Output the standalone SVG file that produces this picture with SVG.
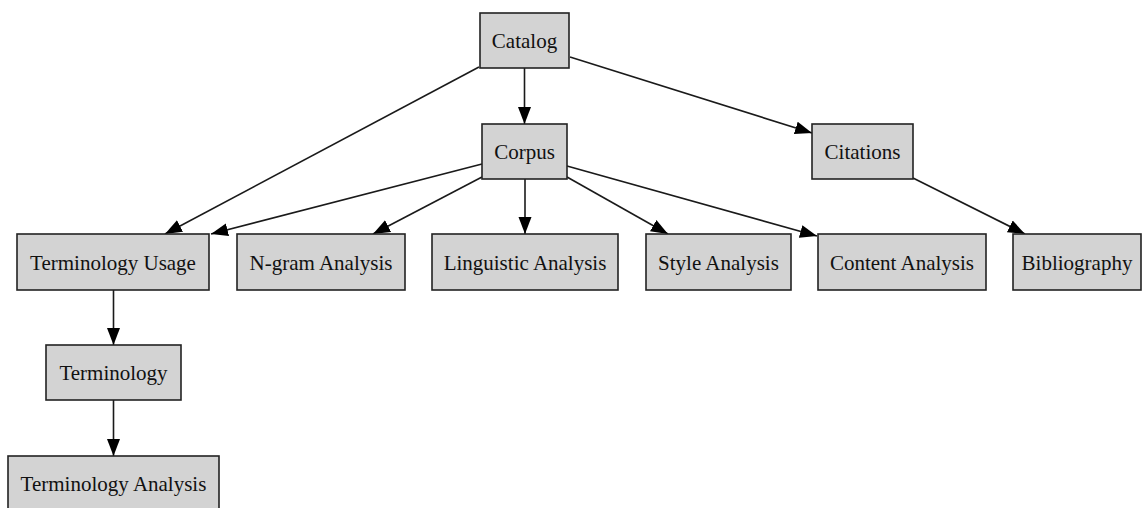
<svg xmlns="http://www.w3.org/2000/svg" width="1143" height="508" viewBox="0 0 1143 508">
  <style>
    .node rect { fill: #d3d3d3; stroke: #222; stroke-width: 1.6; }
    .node text { font-family: "Liberation Serif", "Times New Roman", serif; font-size: 21px; fill: #111; text-anchor: middle; }
    .edges path { fill: none; stroke: #1a1a1a; stroke-width: 1.6; marker-end: url(#arrow); }
  </style>
  <defs>
    <marker id="arrow" markerUnits="userSpaceOnUse" markerWidth="17" markerHeight="14" refX="17" refY="7" orient="auto">
      <path d="M0,0.5 L17,7 L0,13.5 z" fill="#000"/>
    </marker>
  </defs>
  <rect width="1143" height="508" fill="#fff"/>

  <g class="edges">
    <path d="M524.5,68 L524.5,124"/>
    <path d="M479,67 L165,234"/>
    <path d="M570,57 L812,133"/>
    <path d="M482,164 L211,234"/>
    <path d="M482,177 L373,234"/>
    <path d="M525,179 L525,234"/>
    <path d="M567,177 L668,234"/>
    <path d="M567,166 L817,236"/>
    <path d="M913,178 L1025,234"/>
    <path d="M113.5,290 L113.5,345"/>
    <path d="M113.5,400 L113.5,456"/>
  </g>

  <g id="catalog" class="node"><rect x="480" y="13" width="89" height="55"/><text x="524.5" y="48">Catalog</text></g>
  <g id="corpus" class="node"><rect x="482" y="124" width="85" height="55"/><text x="524.5" y="159">Corpus</text></g>
  <g id="citations" class="node"><rect x="812" y="124" width="101" height="55"/><text x="862.5" y="159">Citations</text></g>
  <g id="terminology-usage" class="node"><rect x="17" y="234" width="192" height="56"/><text x="113" y="269.5">Terminology Usage</text></g>
  <g id="ngram-analysis" class="node"><rect x="237" y="234" width="168" height="56"/><text x="321" y="269.5">N-gram Analysis</text></g>
  <g id="linguistic-analysis" class="node"><rect x="432" y="234" width="186" height="56"/><text x="525" y="269.5">Linguistic Analysis</text></g>
  <g id="style-analysis" class="node"><rect x="646" y="234" width="145" height="56"/><text x="718.5" y="269.5">Style Analysis</text></g>
  <g id="content-analysis" class="node"><rect x="818" y="234" width="168" height="56"/><text x="902" y="269.5">Content Analysis</text></g>
  <g id="bibliography" class="node"><rect x="1013" y="234" width="128" height="56"/><text x="1077" y="269.5">Bibliography</text></g>
  <g id="terminology" class="node"><rect x="46" y="345" width="135" height="55"/><text x="113.5" y="380">Terminology</text></g>
  <g id="terminology-analysis" class="node"><rect x="8" y="456" width="211" height="55"/><text x="113.5" y="491">Terminology Analysis</text></g>
</svg>
